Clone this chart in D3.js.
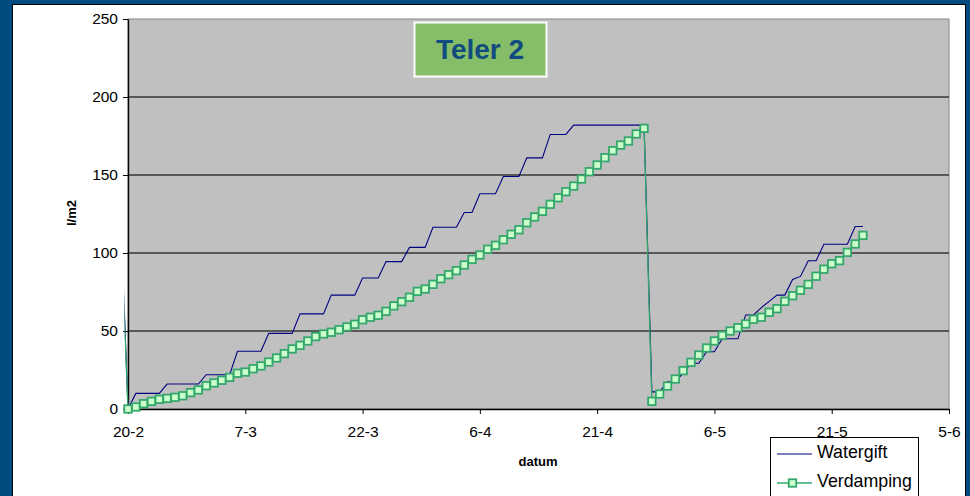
<!DOCTYPE html>
<html lang="nl">
<head>
    <meta charset="UTF-8">
    <script src="https://d3js.org/d3.v7.min.js"></script>
    <title>Teler 2</title>
    <style>
        body { margin: 0; background: #004b80; }
        text { font-family: "Liberation Sans", Arial, sans-serif; }
    </style>
</head>
<body>
    <div id="chart"></div>
    <script>
        // daily values, first entry is 19-2 (one day before the axis starts)
        const watergift = [
            135, 0, 10, 10, 10, 10, 16, 16, 16, 16, 16, 22, 22, 22, 22, 37, 37, 37, 37,
            48.5, 48.5, 48.5, 48.5, 61, 61, 61, 61, 73, 73, 73, 73, 84, 84, 84,
            94.5, 94.5, 94.5, 103.6, 103.6, 103.6, 116.5, 116.5, 116.5, 116.5, 126, 126,
            138, 138, 138, 149, 149, 149, 161, 161, 161, 176, 176, 176,
            182, 182, 182, 182, 182, 182, 182, 182, 182, 182,
            11, 11, 17.5, 17.5, 23, 29.3, 29.3, 36.7, 36.7, 45, 45, 45, 60.3, 60.3,
            65, 69, 73, 73, 83, 85, 95, 95, 105.6, 105.6, 105.6, 105.6, 117, 117
        ];
        const verdamping = [
            125, 0, 1.3, 3.4, 4.9, 6.2, 6.8, 7.5, 8.5, 10.5, 12.2, 14.9, 16.7, 18.4, 20.3,
            22.9, 23.7, 25.8, 27.6, 30.1, 32.7, 35.5, 38.5, 40.8, 43.6, 46.4, 48.1, 49.2,
            50.8, 52.6, 54.3, 57.2, 58.8, 60.1, 62.6, 66.1, 68.8, 71.6, 75.4, 76.9, 79.9,
            83.5, 86.1, 88.7, 92.3, 95.9, 98.7, 102.4, 104.9, 108.5, 112, 114.9, 119.4,
            123.1, 126.7, 131.2, 135.4, 139.3, 142.9, 147.4, 152.1, 156.4, 161.1, 165.6,
            169.2, 171.8, 176.3, 179.9,
            4.9, 9.6, 14.7, 19.2, 24.6, 29.9, 34.6, 39.1, 43.6, 47.2, 50, 52.1, 54.5,
            57.5, 58.8, 62, 64.3, 69, 72.6, 76.1, 79.9, 85.1, 89.6, 93.1, 95.1, 100.4,
            105.8, 111.3
        ];
        const xTickLabels = ["20-2", "7-3", "22-3", "6-4", "21-4", "6-5", "21-5", "5-6"];
        const yTicks = [0, 50, 100, 150, 200, 250];
        const seriesNames = ["Watergift", "Verdamping"];

        const w = 970, h = 496;
        const padL = 128, padR = 949, padT = 19, padB = 409;

        const startDate = new Date(2007, 1, 20);
        const firstDate = d3.timeDay.offset(startDate, -1);
        const endDate = d3.timeDay.offset(startDate, 105);
        const dayOf = (i) => d3.timeDay.offset(firstDate, i);

        const xScale = d3.scaleTime().domain([startDate, endDate]).range([padL, padR]);
        const yScale = d3.scaleLinear().domain([0, 250]).range([padB, padT]);

        const svg = d3.select("#chart").append("svg")
            .attr("width", w).attr("height", h);

        // white panel
        svg.append("rect")
            .attr("x", 12.5).attr("y", 4.5).attr("width", 953).attr("height", 520)
            .attr("fill", "#fff").attr("stroke", "#000");

        // plot area
        svg.append("rect")
            .attr("x", padL).attr("y", padT).attr("width", padR - padL).attr("height", padB - padT)
            .attr("fill", "#c0c0c0").attr("stroke", "#858585");

        // gridlines
        svg.append("g").selectAll("line")
            .data(yTicks.filter(d => d > 0 && d < 250))
            .enter().append("line")
            .attr("x1", padL).attr("x2", padR)
            .attr("y1", d => yScale(d)).attr("y2", d => yScale(d))
            .attr("stroke", "#363636").attr("stroke-width", 1.3);

        // title box
        svg.append("rect")
            .attr("x", 414.5).attr("y", 22.5).attr("width", 132).attr("height", 54)
            .attr("fill", "#86bd68").attr("stroke", "#fff").attr("stroke-width", 2);
        svg.append("text")
            .attr("x", 480).attr("y", 58.5)
            .attr("text-anchor", "middle")
            .attr("font-size", "28px").attr("font-weight", "bold")
            .attr("fill", "#114b7f")
            .text("Teler 2");

        // axes
        const xTickValues = d3.range(0, 106, 15).map(d => d3.timeDay.offset(startDate, d));
        const xAxis = d3.axisBottom(xScale)
            .tickValues(xTickValues)
            .tickFormat((d, i) => xTickLabels[i])
            .tickSize(5).tickSizeOuter(0).tickPadding(11.5);
        const yAxis = d3.axisLeft(yScale)
            .tickValues(yTicks)
            .tickSize(5).tickSizeOuter(0).tickPadding(5);

        const gx = svg.append("g")
            .attr("transform", "translate(0," + padB + ")")
            .call(xAxis);
        const gy = svg.append("g")
            .attr("transform", "translate(" + padL + ",0)")
            .call(yAxis);
        [gx, gy].forEach(g => {
            g.selectAll("text").attr("font-size", "15.5px").attr("fill", "#000")
                .style("font-family", '"Liberation Sans", Arial, sans-serif');
            g.selectAll("line").attr("stroke", "#000");
            g.select(".domain").attr("stroke", "#000").attr("stroke-width", 1.4);
        });

        svg.append("text")
            .attr("x", 538).attr("y", 466)
            .attr("text-anchor", "middle")
            .attr("font-size", "13px").attr("font-weight", "bold")
            .text("datum");
        svg.append("text")
            .attr("transform", "translate(76,213) rotate(-90)")
            .attr("text-anchor", "middle")
            .attr("font-size", "13px").attr("font-weight", "bold")
            .text("l/m2");

        // lines
        svg.append("clipPath").attr("id", "clip")
            .append("rect")
            .attr("x", 124.5).attr("y", 0).attr("width", padR - 124.5).attr("height", padB + 2);

        const line = d3.line()
            .x((d, i) => xScale(dayOf(i)))
            .y(d => yScale(d));

        svg.append("path")
            .datum(watergift)
            .attr("clip-path", "url(#clip)")
            .attr("fill", "none")
            .attr("stroke", "#000080")
            .attr("stroke-width", 1.1)
            .attr("d", line);

        svg.append("path")
            .datum(verdamping)
            .attr("clip-path", "url(#clip)")
            .attr("fill", "none")
            .attr("stroke", "#34a86c")
            .attr("stroke-width", 1.3)
            .attr("d", line);

        const m = 7.5;
        svg.append("g").selectAll("rect")
            .data(verdamping.map((v, i) => ({ v: v, date: dayOf(i) })).filter(d => d.date >= startDate))
            .enter().append("rect")
            .attr("x", d => xScale(d.date) - m / 2)
            .attr("y", d => yScale(d.v) - m / 2)
            .attr("width", m).attr("height", m)
            .attr("fill", "#ccffcc")
            .attr("stroke", "#34a86c")
            .attr("stroke-width", 1.8);

        // legend
        const lg = svg.append("g");
        lg.append("rect")
            .attr("x", 770.5).attr("y", 437.5).attr("width", 148).attr("height", 70)
            .attr("fill", "#fff").attr("stroke", "#000");
        lg.append("line")
            .attr("x1", 777).attr("x2", 812).attr("y1", 454).attr("y2", 454)
            .attr("stroke", "#000080").attr("stroke-width", 1.1);
        lg.append("line")
            .attr("x1", 777).attr("x2", 812).attr("y1", 483).attr("y2", 483)
            .attr("stroke", "#34a86c").attr("stroke-width", 1.3);
        lg.append("rect")
            .attr("x", 792.5 - m / 2).attr("y", 483 - m / 2).attr("width", m).attr("height", m)
            .attr("fill", "#ccffcc").attr("stroke", "#34a86c").attr("stroke-width", 1.8);
        lg.selectAll("text.lab")
            .data(seriesNames)
            .enter().append("text")
            .attr("class", "lab")
            .attr("x", 817)
            .attr("y", (d, i) => 458 + i * 29)
            .attr("font-size", "17.8px")
            .text(d => d);
    </script>
</body>
</html>
